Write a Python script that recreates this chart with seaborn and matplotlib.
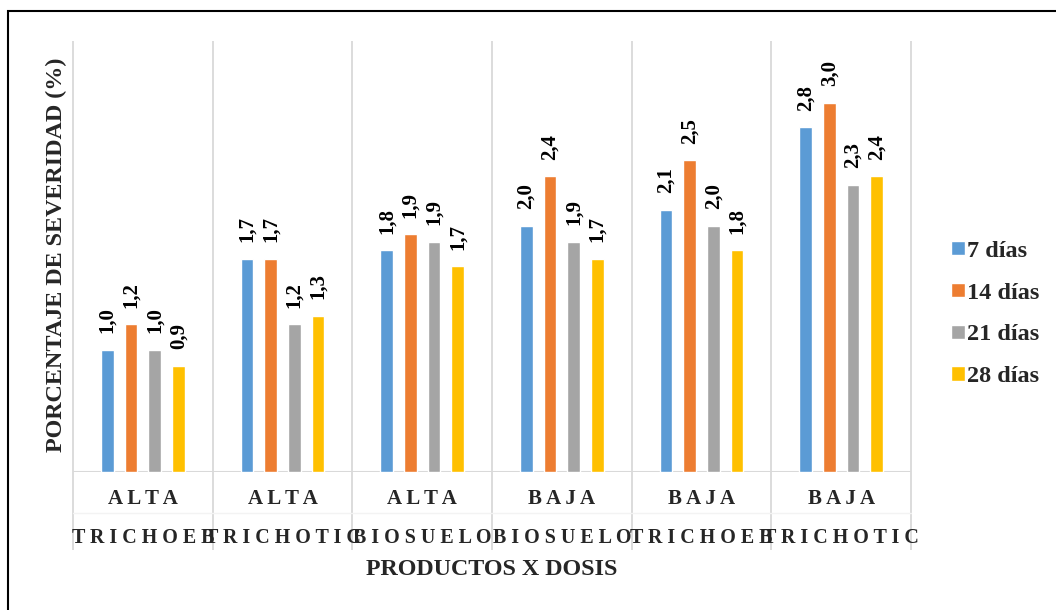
import matplotlib
matplotlib.use("Agg")
import matplotlib.pyplot as plt
from matplotlib.patches import Rectangle
import seaborn as sns
import pandas as pd

# Data: severity percentage by product x dose, measured at four dates
dosis = ["ALTA", "ALTA", "ALTA", "BAJA", "BAJA", "BAJA"]
productos = ["TRICHOEB", "TRICHOTIC", "BIOSUELO", "BIOSUELO", "TRICHOEB", "TRICHOTIC"]
fechas = ["7 días", "14 días", "21 días", "28 días"]
dias_7 = [0.99, 1.73, 1.80, 2.00, 2.13, 2.80]
dias_14 = [1.20, 1.73, 1.93, 2.40, 2.53, 3.00]
dias_21 = [0.99, 1.20, 1.87, 1.87, 2.00, 2.33]
dias_28 = [0.86, 1.27, 1.67, 1.73, 1.80, 2.40]
colores = ["#5B9BD5", "#ED7D31", "#A5A5A5", "#FFC000"]

sns.set_theme(style="white")
plt.rcParams["font.family"] = ["Liberation Serif", "DejaVu Serif"]
plt.rcParams["font.weight"] = "bold"

grupos = [f"{d} {p}" for d, p in zip(dosis, productos)]
series = [dias_7, dias_14, dias_21, dias_28]
df = pd.DataFrame(
    [(g, f, v) for f, vals in zip(fechas, series) for g, v in zip(grupos, vals)],
    columns=["grupo", "fecha", "valor"],
)

fig = plt.figure(figsize=(10.56, 6.10), dpi=100)
ax = fig.add_axes([73 / 1056, 1 - 472 / 610, (911 - 73) / 1056, (472 - 41) / 610])

sns.barplot(data=df, x="grupo", y="valor", hue="fecha", hue_order=fechas,
            order=grupos, palette=colores, width=0.68, gap=0.465,
            saturation=1, ax=ax, errorbar=None)

for cont in ax.containers:
    etiquetas = [f"{b.get_height():.1f}".replace(".", ",") for b in cont]
    ax.bar_label(cont, labels=etiquetas, rotation=90, padding=12,
                 fontsize=15, fontweight="bold", color="black")

ax.set_xlim(-0.5, len(grupos) - 0.5)
ax.set_ylim(0, 3.5)
ax.set_yticks([])
ax.set_xticks([])
ax.set_xlabel("")
ax.set_ylabel("")
for s in ax.spines.values():
    s.set_visible(False)

# Baseline and category separators that run down through the label area
ax.axhline(0, color="#d9d9d9", lw=1.5, zorder=0)
xt = ax.get_xaxis_transform()
ax.vlines([i - 0.5 for i in range(len(grupos) + 1)], -0.181, 1.0,
          transform=xt, colors="#d9d9d9", lw=1.3, clip_on=False, zorder=0)
ax.plot([-0.5, len(grupos) - 0.5], [-0.094, -0.094], transform=xt,
        color="#f3f3f3", lw=1.0, clip_on=False, zorder=0)

# Two-level category labels with spaced letters
for i, (d, p) in enumerate(zip(dosis, productos)):
    ax.text(i, -0.0626, " ".join(d), transform=xt, ha="center", va="center",
            fontsize=15, fontweight="bold")
    ax.text(i, -0.152, " ".join(p), transform=xt, ha="center", va="center",
            fontsize=14.4, fontweight="bold")

ax.text(0.5, -0.227, "PRODUCTOS X DOSIS", transform=ax.transAxes,
        ha="center", va="center", fontsize=17.3, fontweight="bold")
fig.text(56 / 1056, 1 - 255 / 610, "PORCENTAJE DE SEVERIDAD (%)", rotation=90,
         ha="center", va="center", fontsize=17.4, fontweight="bold")

leg = ax.legend(loc="center left", bbox_to_anchor=(939 / 1056, 1 - 314 / 610),
                bbox_transform=fig.transFigure, frameon=False,
                handlelength=0.55, handleheight=0.55, handletextpad=0.12,
                labelspacing=0.86, borderpad=0, prop={"size": 17.5, "weight": "bold"})

# Outer chart border
top = 1 - 11 / 610
fig.add_artist(Rectangle((8 / 1056, -0.2), 1.2, top + 0.2,
                         transform=fig.transFigure, fill=False,
                         edgecolor="black", lw=1.5, clip_on=False))

fig.savefig("out.png", dpi=100)
